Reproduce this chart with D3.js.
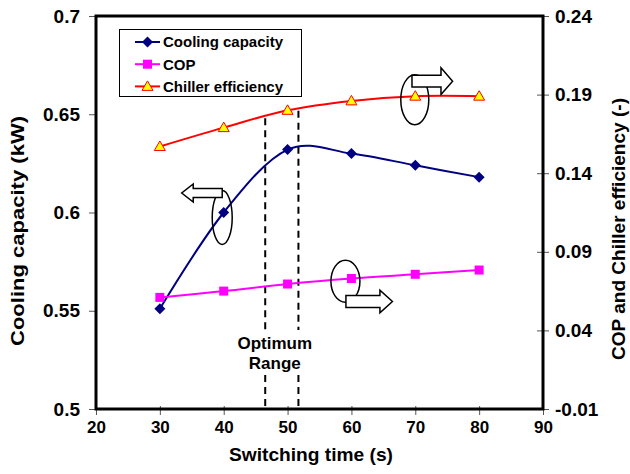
<!DOCTYPE html>
<html>
<head>
<meta charset="utf-8">
<script src="https://cdn.jsdelivr.net/npm/d3@7"></script>
<style>
body{margin:0;background:#fff;}
svg text{font-family:Arial,"Liberation Sans",sans-serif;font-weight:bold;fill:#000;}
</style>
</head>
<body>
<svg id="chart" width="630" height="474"></svg>
<script>
//switching time (s), x axis
const switchingTimes = [30, 40, 50, 60, 70, 80];
//cooling capacity (kW), left axis
const coolingCapacity = [0.551, 0.600, 0.632, 0.630, 0.624, 0.618];
//COP, right axis
const cop = [0.061, 0.065, 0.0695, 0.073, 0.0757, 0.0784];
//chiller efficiency, right axis
const chillerEfficiency = [0.157, 0.169, 0.180, 0.186, 0.189, 0.189];

//axis ticks
const xTicks = [20, 30, 40, 50, 60, 70, 80, 90];
const leftTicks = [0.5, 0.55, 0.6, 0.65, 0.7];
const rightTicks = [-0.01, 0.04, 0.09, 0.14, 0.19, 0.24];

//optimum switching time range (s)
const optimumRange = [46.5, 51.7];

const svg = d3.select("#chart");
const margin = {top: 16, right: 87, bottom: 65, left: 96};
const width = 630, height = 474;
const plotW = width - margin.left - margin.right,
	plotH = height - margin.top - margin.bottom;

const x = d3.scaleLinear().domain([20, 90]).range([margin.left, margin.left + plotW]);
const yLeft = d3.scaleLinear().domain([0.5, 0.7]).range([margin.top + plotH, margin.top]);
const yRight = d3.scaleLinear().domain([-0.01, 0.24]).range([margin.top + plotH, margin.top]);

const series = [
	{name: "Cooling capacity", values: coolingCapacity, scale: yLeft, color: "#000080", marker: "diamond"},
	{name: "COP", values: cop, scale: yRight, color: "#FF00FF", marker: "square"},
	{name: "Chiller efficiency", values: chillerEfficiency, scale: yRight, color: "#FF0000", marker: "triangle"}
];

drawAxes();
drawOptimumRange();
drawSeries();
drawAnnotations();
drawLegend();

//axes, tick labels and the thick plot frame
function drawAxes(){
	let bottom = svg.append("g")
		.attr("transform", "translate(0," + (margin.top + plotH) + ")")
		.call(d3.axisBottom(x).tickValues(xTicks).tickSize(6).tickSizeOuter(0).tickFormat(d => d));
	bottom.selectAll("line").attr("y1", -3);
	bottom.selectAll("text").attr("font-size", 17).attr("dy", 0).attr("y", 24);

	let left = svg.append("g")
		.attr("transform", "translate(" + margin.left + ",0)")
		.call(d3.axisLeft(yLeft).tickValues(leftTicks).tickSize(7).tickSizeOuter(0).tickFormat(d => String(d)));
	left.selectAll("text").attr("font-size", 19).attr("x", -16);

	let right = svg.append("g")
		.attr("transform", "translate(" + (margin.left + plotW) + ",0)")
		.call(d3.axisRight(yRight).tickValues(rightTicks).tickSize(6).tickSizeOuter(0).tickFormat(d => String(d)));
	right.selectAll("line").attr("x1", -6);
	right.selectAll("text").attr("font-size", 19).attr("x", 12);

	svg.selectAll(".domain").remove();
	svg.selectAll(".tick line").attr("stroke", "#555");

	svg.append("rect")
		.attr("x", margin.left)
		.attr("y", margin.top)
		.attr("width", plotW)
		.attr("height", plotH)
		.attr("fill", "none")
		.attr("stroke", "#000")
		.attr("stroke-width", 3);

	svg.append("text")
		.attr("x", 311)
		.attr("y", 461)
		.attr("text-anchor", "middle")
		.attr("font-size", 18.5)
		.attr("textLength", 164)
		.attr("lengthAdjust", "spacingAndGlyphs")
		.text("Switching time (s)");

	svg.append("text")
		.attr("transform", "translate(24,231) rotate(-90)")
		.attr("text-anchor", "middle")
		.attr("font-size", 18)
		.attr("textLength", 230)
		.attr("lengthAdjust", "spacingAndGlyphs")
		.text("Cooling capacity (kW)");

	svg.append("text")
		.attr("transform", "translate(625,229) rotate(-90)")
		.attr("text-anchor", "middle")
		.attr("font-size", 18)
		.attr("textLength", 262)
		.attr("lengthAdjust", "spacingAndGlyphs")
		.text("COP and Chiller efficiency (-)");
}

//dashed lines bounding the optimum range, with the label between them
function drawOptimumRange(){
	let chillerAt = d3.scaleLinear().domain(switchingTimes).range(chillerEfficiency);
	let g = svg.append("g");
	optimumRange.forEach(function(t){
		let top = yRight(chillerAt(t)) + 2;
		[[top, 330], [375, margin.top + plotH]].forEach(function(seg){
			g.append("line")
				.attr("x1", x(t)).attr("x2", x(t))
				.attr("y1", seg[0]).attr("y2", seg[1])
				.attr("stroke", "#000")
				.attr("stroke-width", 2)
				.attr("stroke-dasharray", "7,5");
		});
	});
	let cx = x(d3.mean(optimumRange)) - 7;
	g.append("text").attr("x", cx).attr("y", 349).attr("text-anchor", "middle")
		.attr("font-size", 17).text("Optimum");
	g.append("text").attr("x", cx).attr("y", 369).attr("text-anchor", "middle")
		.attr("font-size", 17).text("Range");
}

//marker shapes used in the plot and in the legend
function drawMarker(g, type, px, py){
	if(type === "diamond"){
		let r = 5.5;
		g.append("path")
			.attr("d", "M" + px + "," + (py - r) + "L" + (px + r) + "," + py + "L" + px + "," + (py + r) + "L" + (px - r) + "," + py + "Z")
			.attr("fill", "#000080");
	} else if(type === "square"){
		g.append("rect")
			.attr("x", px - 4.5).attr("y", py - 4.5)
			.attr("width", 9).attr("height", 9)
			.attr("fill", "#FF00FF");
	} else {
		g.append("path")
			.attr("d", "M" + px + "," + (py - 5.5) + "L" + (px + 5.5) + "," + (py + 4) + "L" + (px - 5.5) + "," + (py + 4) + "Z")
			.attr("fill", "#FFFF00")
			.attr("stroke", "#FF0000")
			.attr("stroke-width", 1);
	}
}

//smoothed lines with markers
function drawSeries(){
	series.forEach(function(s){
		let pts = switchingTimes.map((t, i) => [x(t), s.scale(s.values[i])]);
		let line = d3.line().curve(d3.curveCardinal.tension(0));
		svg.append("path")
			.attr("d", line(pts))
			.attr("fill", "none")
			.attr("stroke", s.color)
			.attr("stroke-width", 2);
		let g = svg.append("g");
		pts.forEach(p => drawMarker(g, s.marker, p[0], p[1]));
	});
}

//arrow outline from xStart through the head base to the tip
function arrowPath(xStart, yc, xBase, xTip, shaftHalf, headHalf){
	return "M" + xStart + "," + (yc - shaftHalf) +
		"L" + xBase + "," + (yc - shaftHalf) +
		"L" + xBase + "," + (yc - headHalf) +
		"L" + xTip + "," + yc +
		"L" + xBase + "," + (yc + headHalf) +
		"L" + xBase + "," + (yc + shaftHalf) +
		"L" + xStart + "," + (yc + shaftHalf) + "Z";
}

//ellipses round a point and arrows showing which axis the series uses
function drawAnnotations(){
	let notes = [
		{t: 40, v: coolingCapacity[1], scale: yLeft, ex: -1.5, ey: 5, rx: 10, ry: 27,
			ax: -1.5, ay: -19.5, base: -30.5, tip: -42, shaft: 4.5, head: 9},
		{t: 70, v: chillerEfficiency[4], scale: yRight, ex: -0.5, ey: 3.5, rx: 14, ry: 25,
			ax: -3.3, ay: -15, base: 25.7, tip: 37.3, shaft: 5.8, head: 13.3},
		{t: 60, v: cop[3], scale: yRight, ex: -6, ey: 2.7, rx: 14.5, ry: 21,
			ax: -5.5, ay: 23, base: 28.5, tip: 41, shaft: 6, head: 11.3}
	];
	let g = svg.append("g");
	notes.forEach(function(n){
		let px = x(n.t), py = n.scale(n.v);
		g.append("ellipse")
			.attr("cx", px + n.ex).attr("cy", py + n.ey)
			.attr("rx", n.rx).attr("ry", n.ry)
			.attr("fill", "none")
			.attr("stroke", "#000")
			.attr("stroke-width", 1.5);
		g.append("path")
			.attr("d", arrowPath(px + n.ax, py + n.ay, px + n.base, px + n.tip, n.shaft, n.head))
			.attr("fill", "#fff")
			.attr("stroke", "#000")
			.attr("stroke-width", 1.5);
	});
}

//legend box in the top left corner of the plot
function drawLegend(){
	let g = svg.append("g").attr("transform", "translate(119.5,29.5)");
	g.append("rect")
		.attr("width", 182).attr("height", 67)
		.attr("fill", "#fff")
		.attr("stroke", "#000")
		.attr("stroke-width", 1);
	series.forEach(function(s, i){
		let yy = 12.5 + i * 22.2;
		g.append("line")
			.attr("x1", 15.5).attr("x2", 40.5)
			.attr("y1", yy).attr("y2", yy)
			.attr("stroke", s.color)
			.attr("stroke-width", 2);
		drawMarker(g, s.marker, 28, yy);
		g.append("text")
			.attr("x", 43.5).attr("y", yy)
			.attr("dy", "0.36em")
			.attr("font-size", 15)
			.text(s.name);
	});
}
</script>
</body>
</html>
